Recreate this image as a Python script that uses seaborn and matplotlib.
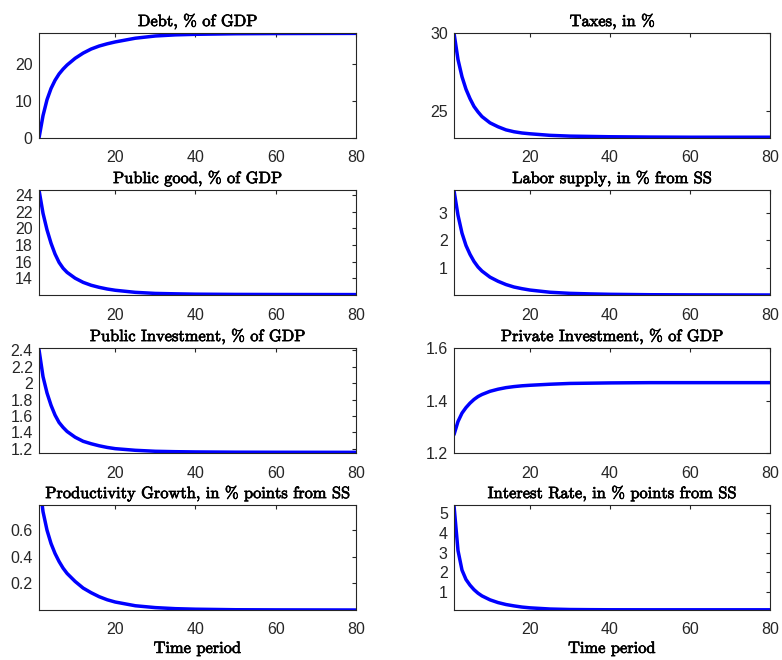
import numpy as np
import pandas as pd
import matplotlib
matplotlib.use("Agg")
import matplotlib.pyplot as plt
import matplotlib.patheffects as pe
import seaborn as sns

# ---- data ----
periods = [1, 2, 3, 4, 5, 6, 7, 8, 10, 12, 14, 16, 18, 20, 25, 30, 35, 40, 50, 60, 80]

debt = [0, 6.0, 10.3, 13.3, 15.5, 17.2, 18.5, 19.6, 21.4, 22.8, 23.9, 24.7, 25.3, 25.8,
        26.8, 27.4, 27.7, 27.85, 28.0, 28.05, 28.1]
taxes = [30, 28.3, 27.2, 26.4, 25.8, 25.3, 24.95, 24.65, 24.25, 24.0, 23.8, 23.68, 23.6,
         23.55, 23.45, 23.4, 23.38, 23.36, 23.34, 23.33, 23.33]
public_good = [24.6, 21.8, 19.8, 18.2, 16.9, 15.9, 15.2, 14.7, 14.0, 13.5, 13.15, 12.9,
               12.7, 12.55, 12.3, 12.17, 12.12, 12.08, 12.05, 12.04, 12.03]
labor = [3.8, 2.9, 2.25, 1.8, 1.48, 1.22, 1.02, 0.87, 0.65, 0.5, 0.38, 0.29, 0.23, 0.18,
         0.1, 0.06, 0.04, 0.025, 0.01, 0.005, 0.0]
pub_inv = [2.41, 2.08, 1.88, 1.73, 1.61, 1.52, 1.46, 1.41, 1.34, 1.29, 1.26, 1.235, 1.215,
           1.2, 1.18, 1.168, 1.163, 1.16, 1.157, 1.156, 1.155]
priv_inv = [1.27, 1.32, 1.352, 1.373, 1.39, 1.404, 1.415, 1.423, 1.435, 1.443, 1.449, 1.453,
            1.456, 1.458, 1.462, 1.465, 1.466, 1.467, 1.468, 1.468, 1.468]
productivity = [0.98, 0.74, 0.6, 0.5, 0.425, 0.365, 0.315, 0.275, 0.215, 0.165, 0.13, 0.1,
                0.077, 0.06, 0.032, 0.018, 0.01, 0.006, 0.002, 0.001, 0.0]
interest = [5.4, 3.1, 2.1, 1.62, 1.33, 1.1, 0.92, 0.78, 0.58, 0.44, 0.34, 0.27, 0.21, 0.17,
            0.11, 0.085, 0.077, 0.072, 0.07, 0.07, 0.07]

titles = ["Debt, % of GDP", "Taxes, in %", "Public good, % of GDP",
          "Labor supply, in % from SS", "Public Investment, % of GDP",
          "Private Investment, % of GDP", "Productivity Growth, in % points from SS",
          "Interest Rate, in % points from SS"]
series = [debt, taxes, public_good, labor, pub_inv, priv_inv, productivity, interest]
ylims = [(0, 28.2), (23.28, 30), (11.98, 24.6), (0.0, 3.82), (1.147, 2.43),
         (1.2, 1.6), (0.0, 0.79), (0.06, 5.43)]
yticks = [[0, 10, 20], [25, 30], [14, 16, 18, 20, 22, 24], [1, 2, 3],
          [1.2, 1.4, 1.6, 1.8, 2, 2.2, 2.4], [1.2, 1.4, 1.6], [0.2, 0.4, 0.6],
          [1, 2, 3, 4, 5]]
ytick_labels = [["0", "10", "20"], ["25", "30"], ["14", "16", "18", "20", "22", "24"],
                ["1", "2", "3"], ["1.2", "1.4", "1.6", "1.8", "2", "2.2", "2.4"],
                ["1.2", "1.4", "1.6"], ["0.2", "0.4", "0.6"], ["1", "2", "3", "4", "5"]]
xticks = [20, 40, 60, 80]
xlabel = "Time period"

sns.set_theme(style="white")
plt.rcParams["font.family"] = ["Liberation Sans", "DejaVu Sans"]

W, H = 782, 660
fig = plt.figure(figsize=(W / 100, H / 100), dpi=100)

col_x = [(39, 356), (454, 770)]
row_y = [(33, 138), (190, 295), (348, 453), (505, 610)]

title_font = dict(family=["cmr10", "DejaVu Serif"], size=11.8, color="black")
stroke = [pe.withStroke(linewidth=0.5, foreground="black")]
gray = "#262626"

for i, (vals, title) in enumerate(zip(series, titles)):
    r, c = divmod(i, 2)
    x0, x1 = col_x[c]
    y0, y1 = row_y[r]
    ax = fig.add_axes([x0 / W, 1 - y1 / H, (x1 - x0) / W, (y1 - y0) / H])
    df = pd.DataFrame({"t": periods, "v": vals})
    sns.lineplot(data=df, x="t", y="v", ax=ax, color="#0000ff", linewidth=2.5)
    ax.set_xlim(1, 80)
    ax.set_ylim(*ylims[i])
    ax.set_xticks(xticks)
    ax.set_xticklabels([str(v) for v in xticks])
    ax.set_yticks(yticks[i])
    ax.set_yticklabels(ytick_labels[i])
    ax.tick_params(direction="in", length=3, width=0.8, colors=gray, labelsize=11.5,
                   top=True, right=True)
    ax.tick_params(axis="x", pad=9)
    ax.tick_params(axis="y", pad=4.5)
    for s in ax.spines.values():
        s.set_color(gray)
        s.set_linewidth(0.8)
    ax.set_ylabel("")
    if r == 3:
        lab = ax.set_xlabel(xlabel, fontdict=title_font, labelpad=3)
        lab.set_path_effects(stroke)
    else:
        ax.set_xlabel("")
    t = ax.set_title(title, fontdict=title_font, pad=5)
    t.set_path_effects(stroke)
    ax.set_facecolor("white")

fig.savefig("out.png", dpi=100, facecolor="white")
